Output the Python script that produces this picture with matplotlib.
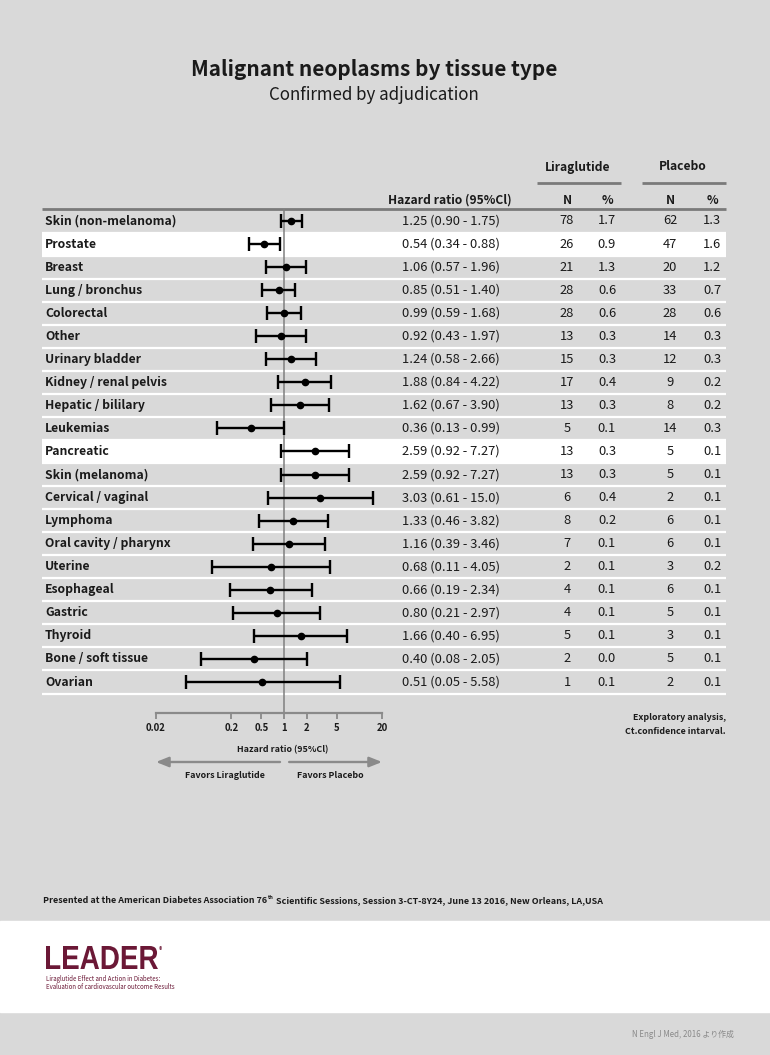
import matplotlib
matplotlib.use("Agg")
import matplotlib.pyplot as plt
from matplotlib import transforms as mtrans
from matplotlib.patches import Rectangle, PathPatch
from matplotlib.textpath import TextPath
from matplotlib.font_manager import FontProperties
import numpy as np

# ---------------- data ----------------
sites = ["Skin (non-melanoma)", "Prostate", "Breast", "Lung / bronchus", "Colorectal",
         "Other", "Urinary bladder", "Kidney / renal pelvis", "Hepatic / bililary",
         "Leukemias", "Pancreatic", "Skin (melanoma)", "Cervical / vaginal", "Lymphoma",
         "Oral cavity / pharynx", "Uterine", "Esophageal", "Gastric", "Thyroid",
         "Bone / soft tissue", "Ovarian"]
hr = [1.25, 0.54, 1.06, 0.85, 0.99, 0.92, 1.24, 1.88, 1.62, 0.36, 2.59, 2.59, 3.03,
      1.33, 1.16, 0.68, 0.66, 0.80, 1.66, 0.40, 0.51]
ci_lo = [0.90, 0.34, 0.57, 0.51, 0.59, 0.43, 0.58, 0.84, 0.67, 0.13, 0.92, 0.92, 0.61,
         0.46, 0.39, 0.11, 0.19, 0.21, 0.40, 0.08, 0.05]
ci_hi = [1.75, 0.88, 1.96, 1.40, 1.68, 1.97, 2.66, 4.22, 3.90, 0.99, 7.27, 7.27, 15.0,
         3.82, 3.46, 4.05, 2.34, 2.97, 6.95, 2.05, 5.58]
ci_text = ["1.25 (0.90 - 1.75)", "0.54 (0.34 - 0.88)", "1.06 (0.57 - 1.96)",
           "0.85 (0.51 - 1.40)", "0.99 (0.59 - 1.68)", "0.92 (0.43 - 1.97)",
           "1.24 (0.58 - 2.66)", "1.88 (0.84 - 4.22)", "1.62 (0.67 - 3.90)",
           "0.36 (0.13 - 0.99)", "2.59 (0.92 - 7.27)", "2.59 (0.92 - 7.27)",
           "3.03 (0.61 - 15.0)", "1.33 (0.46 - 3.82)", "1.16 (0.39 - 3.46)",
           "0.68 (0.11 - 4.05)", "0.66 (0.19 - 2.34)", "0.80 (0.21 - 2.97)",
           "1.66 (0.40 - 6.95)", "0.40 (0.08 - 2.05)", "0.51 (0.05 - 5.58)"]
lira_n = [78, 26, 21, 28, 28, 13, 15, 17, 13, 5, 13, 13, 6, 8, 7, 2, 4, 4, 5, 2, 1]
lira_pct = ["1.7", "0.9", "1.3", "0.6", "0.6", "0.3", "0.3", "0.4", "0.3", "0.1", "0.3",
            "0.3", "0.4", "0.2", "0.1", "0.1", "0.1", "0.1", "0.1", "0.0", "0.1"]
plac_n = [62, 47, 20, 33, 28, 14, 12, 9, 8, 14, 5, 5, 2, 6, 6, 3, 6, 5, 3, 5, 2]
plac_pct = ["1.3", "1.6", "1.2", "0.7", "0.6", "0.3", "0.3", "0.2", "0.2", "0.3", "0.1",
            "0.1", "0.1", "0.1", "0.1", "0.2", "0.1", "0.1", "0.1", "0.1", "0.1"]
highlight = ["Prostate", "Pancreatic"]
xticks = [0.02, 0.2, 0.5, 1, 2, 5, 20]
xtick_labels = ["0.02", "0.2", "0.5", "1", "2", "5", "20"]

# ---------------- style ----------------
FONT = ["Noto Sans CJK JP", "DejaVu Sans"]
plt.rcParams["font.family"] = FONT
BG = "#d9d9d9"
TXT = "#1a1a1a"
GRAY = "#8a8a8a"
MAROON = "#6b1836"

W, H = 770, 1055
fig = plt.figure(figsize=(W / 100, H / 100), dpi=100)
fig.patch.set_facecolor(BG)

bg = fig.add_axes([0, 0, 1, 1])
bg.set_xlim(0, W)
bg.set_ylim(H, 0)
bg.axis("off")

# white footer band
bg.add_patch(Rectangle((0, 921), W, 91, color="white", zorder=0))

# forest axes geometry (pixels)
AX_L, AX_R, AX_T, AX_B = 156, 382, 209, 713
ROW0, PITCH = 221, 23.05
fax = fig.add_axes([AX_L / W, 1 - AX_B / H, (AX_R - AX_L) / W, (AX_B - AX_T) / H])
fax.patch.set_alpha(0)
fax.set_xscale("log")
fax.set_xlim(0.02, 20)
fax.set_ylim((AX_B - ROW0) / PITCH, (AX_T - ROW0) / PITCH)

tr = mtrans.blended_transform_factory(bg.transData, fax.transData)   # x pixels, y rows
tr2 = mtrans.blended_transform_factory(fax.transData, bg.transData)  # x HR, y pixels

n = len(sites)
ys = np.arange(n)
TL, TR = 42, 726

# row bands / separators
for i, s in enumerate(sites):
    if s in highlight:
        bg.add_patch(Rectangle((TL, i - 0.5), TR - TL, 1, transform=tr,
                               facecolor="white", edgecolor="none", zorder=1))
    bg.plot([TL, TR], [i + 0.5, i + 0.5], transform=tr, color="white", lw=1.6,
            zorder=2, solid_capstyle="butt")

# header lines
bg.plot([TL, TR], [209, 209], color="#7a7a7a", lw=2.0, zorder=3, solid_capstyle="butt")
bg.plot([537, 621], [183, 183], color="#7a7a7a", lw=2.0, solid_capstyle="butt")
bg.plot([642, 726], [183, 183], color="#7a7a7a", lw=2.0, solid_capstyle="butt")

# titles
bg.text(374, 70, "Malignant neoplasms by tissue type", ha="center", va="center",
        fontsize=15, fontweight="bold", color=TXT)
bg.text(374, 95, "Confirmed by adjudication", ha="center", va="center",
        fontsize=12.2, color=TXT)

# column headers
HDR = dict(ha="center", va="center", fontsize=8.7, fontweight="bold", color=TXT)
bg.text(578, 167, "Liraglutide", **HDR)
bg.text(683, 167, "Placebo", **HDR)
bg.text(450, 200, "Hazard ratio (95%Cl)", **HDR)
bg.text(567, 200, "N", **HDR)
bg.text(607, 200, "%", **HDR)
bg.text(670, 200, "N", **HDR)
bg.text(712, 200, "%", **HDR)

# table text
for i in range(n):
    bg.text(45, i, sites[i], transform=tr, ha="left", va="center", fontsize=8.8,
            fontweight="bold", color=TXT, zorder=4)
    kw = dict(transform=tr, ha="center", va="center", fontsize=9.3, color=TXT, zorder=4)
    bg.text(451, i, ci_text[i], **kw)
    bg.text(567, i, str(lira_n[i]), **kw)
    bg.text(607, i, lira_pct[i], **kw)
    bg.text(670, i, str(plac_n[i]), **kw)
    bg.text(712, i, plac_pct[i], **kw)

# forest plot
fax.axvline(1, color="#808080", lw=1.1, zorder=1)
hr_a = np.array(hr)
err = [hr_a - np.array(ci_lo), np.array(ci_hi) - hr_a]
fax.errorbar(hr_a, ys, xerr=err, fmt="o", color="black", ms=4.5, lw=1.7,
             capsize=4.7, capthick=1.7, zorder=3, clip_on=False)

for sp in ["top", "left", "right"]:
    fax.spines[sp].set_visible(False)
fax.spines["bottom"].set_color(GRAY)
fax.spines["bottom"].set_linewidth(1.6)
fax.set_yticks([])
fax.set_xticks(xticks)
fax.set_xticklabels(xtick_labels)
fax.xaxis.set_minor_locator(matplotlib.ticker.NullLocator())
fax.tick_params(axis="x", direction="out", length=4.6, width=1.3, color=GRAY,
                labelsize=6.9, labelcolor=TXT, pad=2.5)
for lab in fax.get_xticklabels():
    lab.set_fontweight("bold")

SM = dict(fontsize=6.4, fontweight="bold", color=TXT)
# axis annotations
bg.text(283, 750, "Hazard ratio (95%Cl)", ha="center", va="center", **SM)
AP = dict(arrowstyle="-|>,head_length=0.75,head_width=0.3", color=GRAY, lw=1.7,
          shrinkA=0, shrinkB=0)
fax.annotate("", xy=(0.02, 762), xytext=(0.885, 762), xycoords=tr2, textcoords=tr2,
             arrowprops=AP, annotation_clip=False)
fax.annotate("", xy=(20, 762), xytext=(1.17, 762), xycoords=tr2, textcoords=tr2,
             arrowprops=AP, annotation_clip=False)
bg.text(225, 776, "Favors Liraglutide", ha="center", va="center", **SM)
bg.text(330, 776, "Favors Placebo", ha="center", va="center", **SM)

bg.text(726, 718, "Exploratory analysis,", ha="right", va="center", **SM)
bg.text(726, 732, "Ct.confidence intarval.", ha="right", va="center", **SM)

# footer sentence with superscript
renderer = fig.canvas.get_renderer()
FK = dict(va="baseline", fontsize=6.45, fontweight="bold", color=TXT)
t1 = bg.text(43, 903, "Presented at the American Diabetes Association 76", ha="left", **FK)
bb = t1.get_window_extent(renderer)
t2 = bg.text(bb.x1 + 0.5, 899, "th", ha="left", va="baseline", fontsize=4.0,
             fontweight="bold", color=TXT)
bb2 = t2.get_window_extent(renderer)
bg.text(bb2.x1 + 2.5, 903,
        "Scientific Sessions, Session 3-CT-8Y24, June 13 2016, New Orleans, LA,USA",
        ha="left", **FK)

# LEADER logo (horizontally condensed bold text)
fp = FontProperties(family=["Liberation Sans", "DejaVu Sans"], weight="bold")
tp = TextPath((0, 0), "LEADER", size=31, prop=fp)
ext = tp.get_extents()
sx = 112.0 / ext.width
sy = 23.0 / ext.height
logo_tr = mtrans.Affine2D().scale(sx, -sy).translate(46 - ext.x0 * sx, 969) + bg.transData
bg.add_patch(PathPatch(tp, transform=logo_tr, facecolor=MAROON, edgecolor="none"))
bg.text(159, 950, "®", ha="left", va="center", fontsize=4.5, fontweight="bold",
        color=MAROON)
bg.text(46, 979, "Liraglutide Effect and Action in Diabetes:", ha="left", va="center",
        fontsize=4.4, color=MAROON)
bg.text(46, 987, "Evaluation of cardiovascular outcome Results", ha="left", va="center",
        fontsize=4.4, color=MAROON)

bg.text(734, 1034, "N Engl J Med, 2016 より作成", ha="right", va="center", fontsize=5.7,
        color="#8a8a8a")

fig.savefig("out.png", dpi=100, facecolor=fig.get_facecolor())
